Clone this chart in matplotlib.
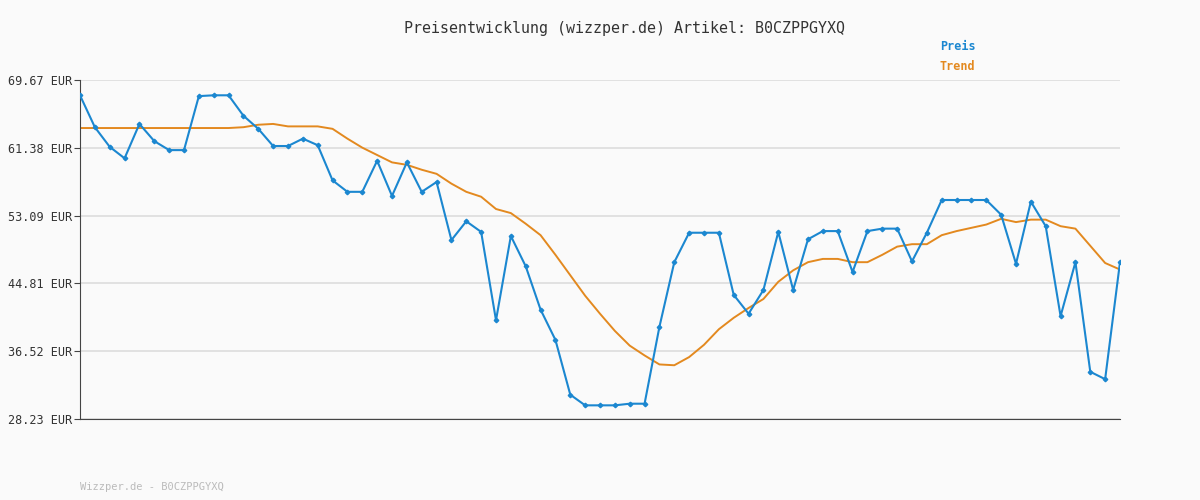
import matplotlib
matplotlib.use("Agg")
import matplotlib.pyplot as plt

preis = [67.8,63.9,61.5,60.1,64.3,62.2,61.1,61.1,67.7,67.8,67.8,65.3,63.7,61.6,61.6,62.5,61.7,57.4,56.0,56.0,
         59.8,55.5,59.6,56.0,57.2,50.1,52.4,51.1,40.3,50.6,46.9,41.6,37.9,31.2,29.9,29.9,29.9,30.1,30.1,39.5,
         47.4,51.0,51.0,51.0,43.4,41.1,44.0,51.1,44.0,50.2,51.2,51.2,46.2,51.2,51.5,51.5,47.5,51.0,55.0,55.0,
         55.0,55.0,53.2,47.2,54.8,51.8,40.8,47.4,34.0,33.1,47.4]
trend = [63.8]*11 + [63.9,64.2,64.3,64.0,64.0,64.0,63.7,62.5,61.4,60.5,59.6,59.3,58.7,58.2,57.0,56.0,55.4,53.9,53.4,
         52.1,50.7,48.3,45.8,43.3,41.1,39.0,37.2,36.0,34.9,34.8,35.8,37.3,39.2,40.6,41.8,42.9,45.0,46.4,47.4,
         47.8,47.8,47.4,47.4,48.3,49.3,49.6,49.6,50.7,51.2,51.6,52.0,52.7,52.3,52.6,52.6,51.8,51.5,49.4,47.3,46.5]
yticks = [28.23,36.52,44.81,53.09,61.38,69.67]
ylabels = [f"{v:.2f} EUR" for v in yticks]

bg = "#fafafa"
fig = plt.figure(figsize=(12,5), dpi=100, facecolor=bg)
ax = fig.add_axes([80/1200, 1-419/500, 1040/1200, 339/500], facecolor=bg)
x = list(range(len(preis)))
ax.plot(x, trend, color="#e3891f", lw=1.4, zorder=2)
ax.plot(x, preis, color="#1b87d0", lw=1.5, marker="D", ms=2.3, zorder=3)
ax.set_xlim(0, len(preis)-1)
ax.set_ylim(28.23, 69.67)
ax.set_yticks(yticks)
ax.set_yticklabels(ylabels, family="DejaVu Sans Mono", fontsize=8.5, color="#333333")
ax.set_xticks([])
ax.grid(axis="y", color="#dddddd", lw=1.2)
ax.set_axisbelow(True)
for s in ["top","right"]:
    ax.spines[s].set_visible(False)
ax.spines["left"].set_color("#444444")
ax.spines["bottom"].set_color("#444444")
ax.tick_params(axis="y", length=4, color="#444444", pad=2)
mono = "DejaVu Sans Mono"
fig.text(624/1200, 1-28/500, "Preisentwicklung (wizzper.de) Artikel: B0CZPPGYXQ", ha="center", va="center",
         family=mono, fontsize=10.8, color="#333333")
fig.text(940/1200, 1-47/500, "Preis", family=mono, fontsize=8.5, fontweight="bold", color="#1b87d0", va="center")
fig.text(940/1200, 1-67/500, "Trend", family=mono, fontsize=8.5, fontweight="bold", color="#e3891f", va="center")
fig.text(80/1200, 1-487/500, "Wizzper.de - B0CZPPGYXQ", family=mono, fontsize=7.5, color="#bbbbbb", va="center")
fig.savefig("out.png", facecolor=bg)
